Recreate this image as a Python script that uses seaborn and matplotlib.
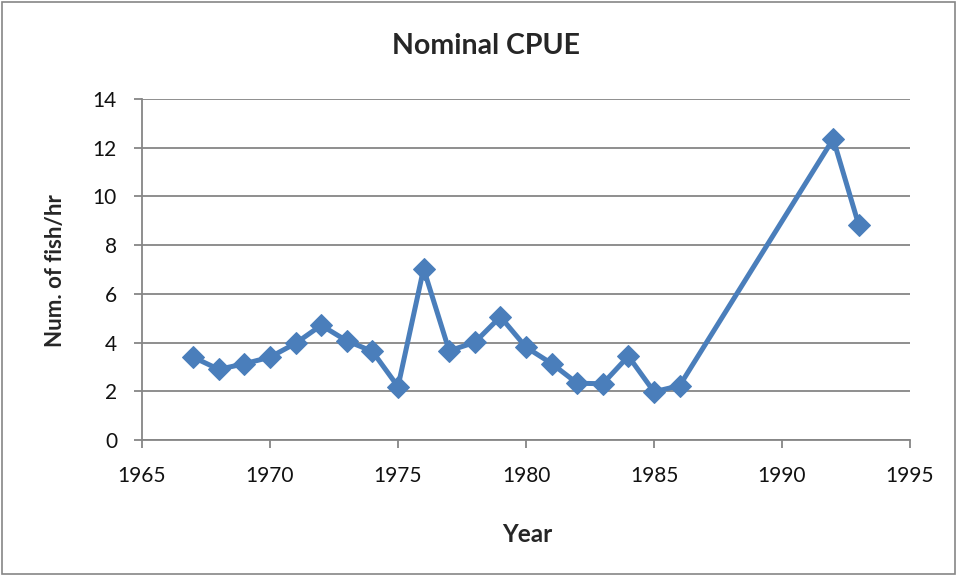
import matplotlib
matplotlib.use("Agg")
import matplotlib.pyplot as plt
import seaborn as sns
import pandas as pd

years = [1967, 1968, 1969, 1970, 1971, 1972, 1973, 1974, 1975, 1976, 1977,
         1978, 1979, 1980, 1981, 1982, 1983, 1984, 1985, 1986, 1992, 1993]
cpue = [3.40, 2.90, 3.13, 3.40, 3.97, 4.71, 4.07, 3.64, 2.19, 7.03, 3.66,
        4.01, 5.06, 3.81, 3.14, 2.33, 2.31, 3.44, 1.98, 2.23, 12.36, 8.82]
x_ticks = [1965, 1970, 1975, 1980, 1985, 1990, 1995]
y_ticks = [0, 2, 4, 6, 8, 10, 12, 14]

df = pd.DataFrame({"Year": years, "CPUE": cpue})

sns.set_style("white")
plt.rcParams['font.family'] = ['Lato', 'DejaVu Sans']

W, H = 957, 575
fig = plt.figure(figsize=(W/100, H/100), dpi=100)
ax = fig.add_axes([142/W, 1 - 440/H, (910-142)/W, (440-99)/H])

color = "#4A7EBB"
sns.lineplot(data=df, x="Year", y="CPUE", ax=ax, color=color, linewidth=3.6,
             marker="D", markersize=11.5, markeredgecolor=color, markerfacecolor=color)

ax.set_xlim(1965, 1995)
ax.set_ylim(0, 14)
ax.set_xticks(x_ticks)
ax.set_yticks(y_ticks)
ax.yaxis.grid(True, color="#868686", linewidth=1.3)
ax.xaxis.grid(False)
for s in ["top", "right"]:
    ax.spines[s].set_visible(False)
for s in ["left", "bottom"]:
    ax.spines[s].set_color("#868686")
    ax.spines[s].set_linewidth(1.3)
ax.tick_params(axis="both", which="major", direction="out", length=6, width=1.3,
               color="#868686", labelsize=15, labelcolor="#111111", left=True, bottom=True)
ax.tick_params(axis="x", pad=13)
ax.tick_params(axis="y", pad=12)
ax.set_xlabel("")
ax.set_ylabel("")

fig.text(486/W, 1 - 46/H, "Nominal CPUE", fontsize=20.5, fontweight="bold",
         ha="center", va="center")
fig.text(527/W, 1 - 534/H, "Year", fontsize=17.5, fontweight="bold",
         ha="center", va="center")
fig.text(56/W, 1 - 271/H, "Num. of fish/hr", fontsize=16, fontweight="bold",
         ha="center", va="center", rotation=90)

fig.patches.append(plt.Rectangle((0.002, 0.002), 0.996, 0.994, transform=fig.transFigure,
                                 fill=False, edgecolor="#868686", linewidth=1.2))

fig.savefig("out.png", dpi=100)
